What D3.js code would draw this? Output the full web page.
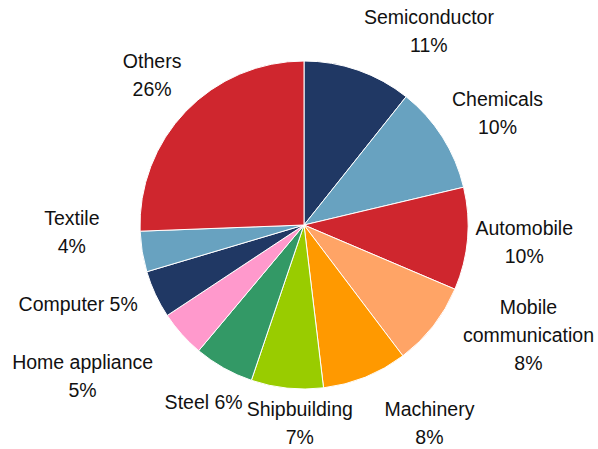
<!DOCTYPE html>
<html>
<head>
<meta charset="utf-8">
<script src="https://cdn.jsdelivr.net/npm/d3@7"></script>
<style>
  body { margin: 0; background: #fff; }
  text { font-family: "Liberation Sans", Arial, sans-serif; font-size: 19.5px; fill: #111; }
</style>
</head>
<body>
<div id="chart"></div>
<script>
// sectors, clockwise from 12 o'clock
var sectors = ["Semiconductor", "Chemicals", "Automobile", "Mobile communication", "Machinery",
               "Shipbuilding", "Steel", "Home appliance", "Computer", "Textile", "Others"];
var shares = [10.7, 10.6, 10.1, 8.3, 8.4, 7.1, 5.9, 4.6, 4.7, 4.0, 25.6];
var shareLabels = ["11%", "10%", "10%", "8%", "8%", "7%", "6%", "5%", "5%", "4%", "26%"];
// how each label is broken into lines
var labelLines = [
    ["Semiconductor", "11%"],
    ["Chemicals", "10%"],
    ["Automobile", "10%"],
    ["Mobile", "communication", "8%"],
    ["Machinery", "8%"],
    ["Shipbuilding", "7%"],
    ["Steel 6%"],
    ["Home appliance", "5%"],
    ["Computer 5%"],
    ["Textile", "4%"],
    ["Others", "26%"]
];
var colors = ["#203864", "#68a2c0", "#cf262e", "#ffa466", "#ff9900",
              "#99cc00", "#339966", "#ff99cc", "#203864", "#68a2c0", "#cf262e"];
// label nudges away from the outer centroid (layout only)
var nudges = [[54, 9], [12, 3], [6, -1], [55, -22], [45, -1], [18, -16],
              [5, -10], [-61, 8], [-31, -12], [-20, -28], [3, -1]];

var width = 598, height = 449,
    cx = 304, cy = 225,
    radius = 164,
    labelRadius = 215,
    lineH = 28;

var data = sectors.map(function(s, i) { return {name: s, value: shares[i], i: i}; });

var svg = d3.select("#chart")
            .append("svg")
                .attr("width", width)
                .attr("height", height)
            .append("g")
                .attr("transform", "translate(" + cx + "," + cy + ")");

var pie = d3.pie().sort(null).value(function(d) { return d.value; });
var arc = d3.arc().innerRadius(0).outerRadius(radius);
var labelArc = d3.arc().innerRadius(labelRadius).outerRadius(labelRadius);

var arcs = pie(data);

svg.selectAll("path.slice")
    .data(arcs)
  .enter().append("path")
    .attr("class", "slice")
    .attr("d", arc)
    .attr("fill", function(d) { return colors[d.data.i]; })
    .attr("stroke", "#fff")
    .attr("stroke-width", 1);

var labels = svg.selectAll("text.label")
    .data(arcs)
  .enter().append("text")
    .attr("class", "label")
    .attr("text-anchor", "middle")
    .attr("transform", function(d) {
        var c = labelArc.centroid(d), n = nudges[d.data.i];
        return "translate(" + (c[0] + n[0]) + "," + (c[1] + n[1]) + ")";
    });

labels.each(function(d) {
    var lines = labelLines[d.data.i];
    var t = d3.select(this);
    lines.forEach(function(line, k) {
        t.append("tspan")
            .attr("x", 0)
            .attr("y", (k - (lines.length - 1) / 2) * lineH)
            .attr("dy", "0.35em")
            .text(line);
    });
});
</script>
</body>
</html>
